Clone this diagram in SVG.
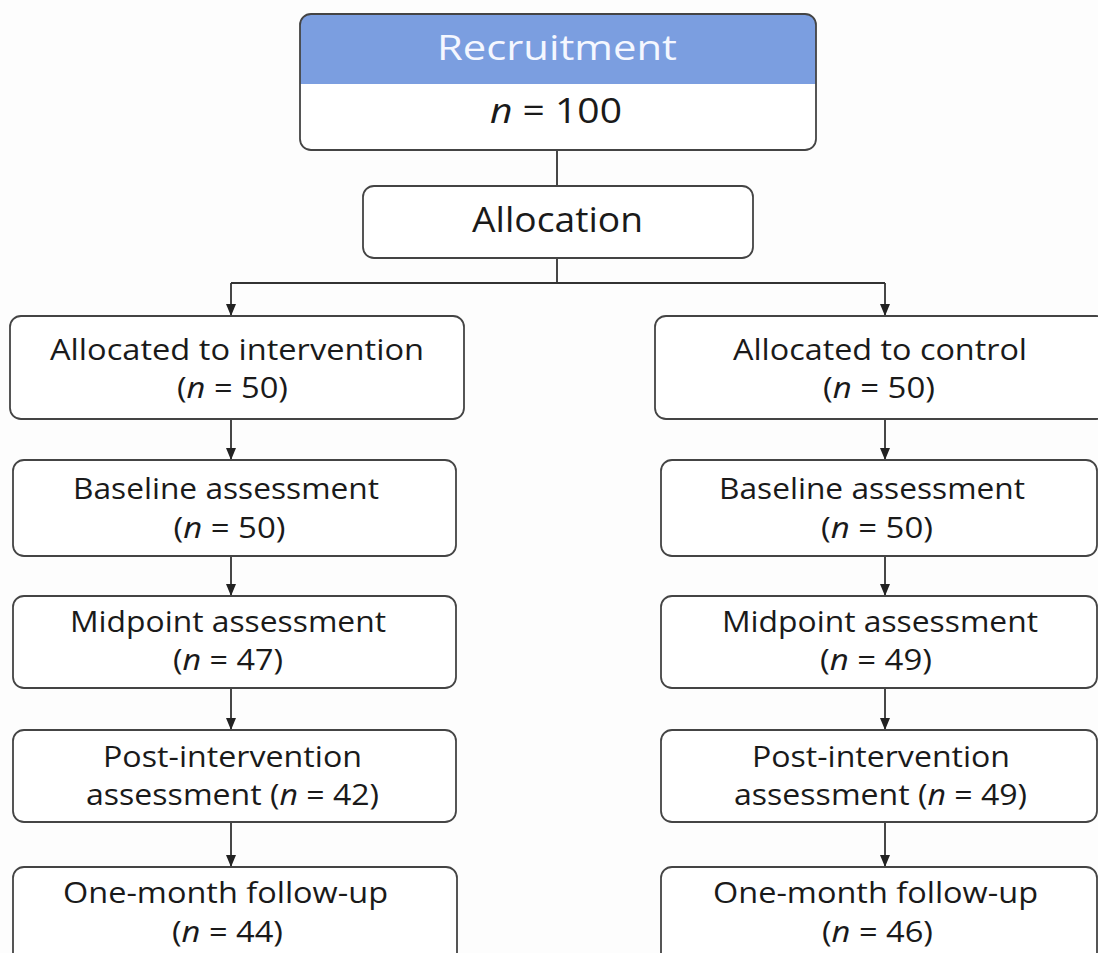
<svg xmlns="http://www.w3.org/2000/svg" width="1098" height="953" viewBox="0 0 1098 953">
<style>
.box{fill:#fff;stroke:#444;stroke-width:1.8}
.t{font-family:"Open Sans","Noto Sans",sans-serif;font-size:29px;fill:#1a1a1a;text-anchor:middle}
.big{font-size:34px}
.wh{fill:#f4f7ff}
.c{fill:none;stroke:#333;stroke-width:1.8}
</style>
<defs>
<marker id="ah" viewBox="0 0 12 10" refX="12" refY="5" markerWidth="12" markerHeight="10" markerUnits="userSpaceOnUse" orient="auto">
<path d="M0,0 L12,5 L0,10 Z" fill="#222"/>
</marker>
<clipPath id="topclip"><rect x="300" y="14" width="516" height="136" rx="11"/></clipPath>
</defs>
<rect width="1098" height="953" fill="#fdfdfd"/>
<g id="connectors">
<path class="c" d="M557,150 V186"/>
<path class="c" d="M557,258 V283 M231,283 H885"/>
<path class="c" d="M231,283 V316" marker-end="url(#ah)"/>
<path class="c" d="M885,283 V316" marker-end="url(#ah)"/>
<path class="c" d="M231,419 V460" marker-end="url(#ah)"/>
<path class="c" d="M885,419 V460" marker-end="url(#ah)"/>
<path class="c" d="M231,556 V596" marker-end="url(#ah)"/>
<path class="c" d="M885,556 V596" marker-end="url(#ah)"/>
<path class="c" d="M231,688 V730" marker-end="url(#ah)"/>
<path class="c" d="M885,688 V730" marker-end="url(#ah)"/>
<path class="c" d="M231,822 V867" marker-end="url(#ah)"/>
<path class="c" d="M885,822 V867" marker-end="url(#ah)"/>
</g>
<g id="recruitment">
<rect x="300" y="14" width="516" height="136" rx="11" fill="#fff"/>
<rect x="300" y="14" width="516" height="70" fill="#7b9ee0" clip-path="url(#topclip)"/>
<rect x="300" y="14" width="516" height="136" rx="11" fill="none" stroke="#444" stroke-width="1.8"/>
<text class="t big wh" x="557" y="60" textLength="240" lengthAdjust="spacingAndGlyphs">Recruitment</text>
<text class="t big" x="556" y="123" textLength="132" lengthAdjust="spacingAndGlyphs"><tspan font-style="italic">n</tspan> = 100</text>
</g>
<g id="allocation">
<rect class="box" x="363" y="186" width="390" height="72" rx="11"/>
<text class="t big" x="557.5" y="232" textLength="171" lengthAdjust="spacingAndGlyphs">Allocation</text>
</g>
<g id="alloc-int">
<rect class="box" x="10" y="316" width="454" height="103" rx="11"/>
<text class="t" x="237" y="360" textLength="374" lengthAdjust="spacingAndGlyphs">Allocated to intervention</text>
<text class="t" x="232.5" y="398" textLength="111" lengthAdjust="spacingAndGlyphs">(<tspan font-style="italic">n</tspan> = 50)</text>
</g>
<g id="alloc-ctrl">
<rect class="box" x="655" y="316" width="452" height="103" rx="11"/>
<text class="t" x="880" y="360" textLength="294" lengthAdjust="spacingAndGlyphs">Allocated to control</text>
<text class="t" x="879" y="398" textLength="112" lengthAdjust="spacingAndGlyphs">(<tspan font-style="italic">n</tspan> = 50)</text>
</g>
<g id="base-int">
<rect class="box" x="13" y="460" width="443" height="96" rx="11"/>
<text class="t" x="226" y="499" textLength="306" lengthAdjust="spacingAndGlyphs">Baseline assessment</text>
<text class="t" x="229.5" y="538" textLength="112" lengthAdjust="spacingAndGlyphs">(<tspan font-style="italic">n</tspan> = 50)</text>
</g>
<g id="base-ctrl">
<rect class="box" x="661" y="460" width="436" height="96" rx="11"/>
<text class="t" x="872" y="499" textLength="306" lengthAdjust="spacingAndGlyphs">Baseline assessment</text>
<text class="t" x="877" y="538" textLength="112" lengthAdjust="spacingAndGlyphs">(<tspan font-style="italic">n</tspan> = 50)</text>
</g>
<g id="mid-int">
<rect class="box" x="13" y="596" width="443" height="92" rx="11"/>
<text class="t" x="228" y="632" textLength="316" lengthAdjust="spacingAndGlyphs">Midpoint assessment</text>
<text class="t" x="228" y="670" textLength="110" lengthAdjust="spacingAndGlyphs">(<tspan font-style="italic">n</tspan> = 47)</text>
</g>
<g id="mid-ctrl">
<rect class="box" x="661" y="596" width="436" height="92" rx="11"/>
<text class="t" x="880" y="632" textLength="316" lengthAdjust="spacingAndGlyphs">Midpoint assessment</text>
<text class="t" x="876" y="670" textLength="112" lengthAdjust="spacingAndGlyphs">(<tspan font-style="italic">n</tspan> = 49)</text>
</g>
<g id="post-int">
<rect class="box" x="13" y="730" width="443" height="92" rx="11"/>
<text class="t" x="232.5" y="767" textLength="259" lengthAdjust="spacingAndGlyphs">Post-intervention</text>
<text class="t" x="232.5" y="805" textLength="293" lengthAdjust="spacingAndGlyphs">assessment (<tspan font-style="italic">n</tspan> = 42)</text>
</g>
<g id="post-ctrl">
<rect class="box" x="661" y="730" width="436" height="92" rx="11"/>
<text class="t" x="881" y="767" textLength="258" lengthAdjust="spacingAndGlyphs">Post-intervention</text>
<text class="t" x="880.5" y="805" textLength="293" lengthAdjust="spacingAndGlyphs">assessment (<tspan font-style="italic">n</tspan> = 49)</text>
</g>
<g id="fu-int">
<rect class="box" x="13" y="867" width="444" height="100" rx="11"/>
<text class="t" x="225.5" y="903" textLength="325" lengthAdjust="spacingAndGlyphs">One-month follow-up</text>
<text class="t" x="227.5" y="942" textLength="111" lengthAdjust="spacingAndGlyphs">(<tspan font-style="italic">n</tspan> = 44)</text>
</g>
<g id="fu-ctrl">
<rect class="box" x="661" y="867" width="436" height="100" rx="11"/>
<text class="t" x="875.5" y="903" textLength="325" lengthAdjust="spacingAndGlyphs">One-month follow-up</text>
<text class="t" x="877.5" y="942" textLength="111" lengthAdjust="spacingAndGlyphs">(<tspan font-style="italic">n</tspan> = 46)</text>
</g>
</svg>
